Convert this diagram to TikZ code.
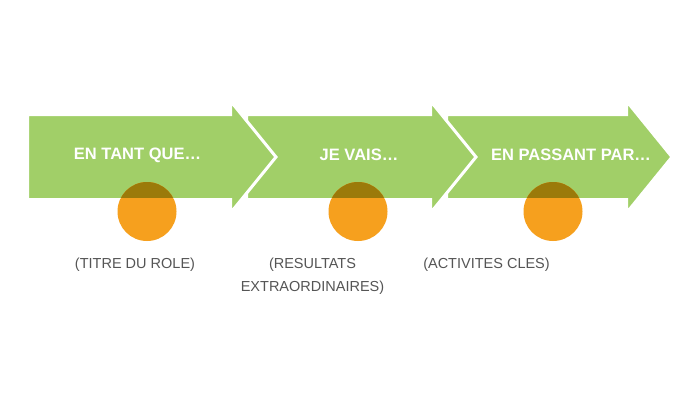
\documentclass[tikz,border=0pt]{standalone}
\usepackage{fontspec}
\setmainfont{Liberation Sans}
\definecolor{arrowgreen}{RGB}{161,207,104}
\definecolor{dotorange}{RGB}{246,160,30}
\definecolor{dotdark}{RGB}{155,122,10}
\definecolor{labelgray}{RGB}{85,85,85}
\tikzset{
  arrowshape/.style={fill=arrowgreen, draw=white, line width=3pt, line join=miter},
  steptext/.style={text=white, font=\fontsize{16.5}{19}\selectfont\bfseries, inner sep=0pt},
  labeltext/.style={text=labelgray, font=\fontsize{14.5}{23}\selectfont, align=center, inner sep=0pt},
}
\begin{document}
\begin{tikzpicture}[x=1pt,y=-1pt]
\useasboundingbox[fill=white] (0,0) rectangle (700,401);
% arrows, drawn from last to first so each tip lies over the next body
\draw[arrowshape] (446.5,114.5) -- (626.5,114.5) -- (626.5,101) -- (672,157) -- (626.5,213) -- (626.5,199.5) -- (446.5,199.5) -- cycle;
\draw[arrowshape] (246.5,114.5) -- (430.5,114.5) -- (430.5,101) -- (476,157) -- (430.5,213) -- (430.5,199.5) -- (246.5,199.5) -- cycle;
\draw[arrowshape] (27.5,114.5) -- (230.5,114.5) -- (230.5,101) -- (276,157) -- (230.5,213) -- (230.5,199.5) -- (27.5,199.5) -- cycle;
% circles
\foreach \cx in {147,358,553}{
  \fill[dotorange] (\cx,211.5) circle[radius=29.5];
  \begin{scope}
    \clip (\cx,211.5) circle[radius=29.5];
    \fill[dotdark] (\cx-31,170) rectangle (\cx+31,198);
  \end{scope}
}
% step texts
\node[steptext] (t1) at (137.5,155) {EN TANT QUE…};
\node[steptext] (t2) at (359,155) {JE VAIS…};
\node[steptext] (t3) at (571,155) {EN PASSANT PAR…};
% labels
\node[labeltext, anchor=base] (l1) at (135,268) {(TITRE DU ROLE)};
\node[labeltext, anchor=base] (l2) at (312.5,291) {(RESULTATS\\EXTRAORDINAIRES)};
\node[labeltext, anchor=base] (l3) at (486.5,268) {(ACTIVITES CLES)};
\end{tikzpicture}
\end{document}
